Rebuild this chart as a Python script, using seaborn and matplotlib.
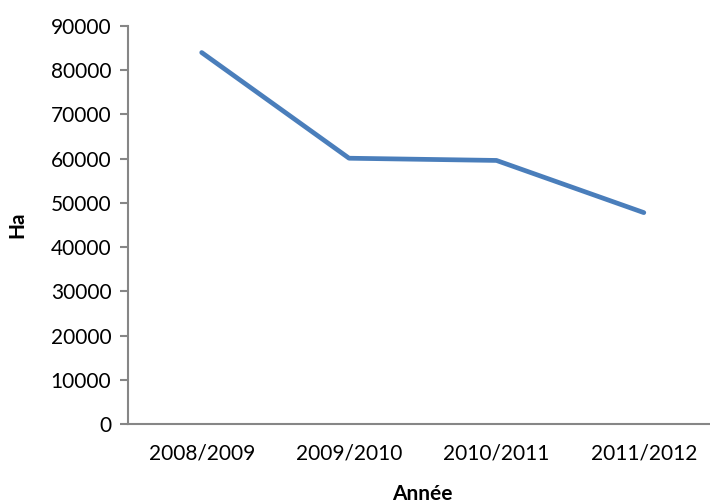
import matplotlib
matplotlib.use('Agg')
import matplotlib.pyplot as plt
import seaborn as sns
import pandas as pd

years = ["2008/2009", "2009/2010", "2010/2011", "2011/2012"]
surface_ha = [84000, 60100, 59600, 47800]

sns.set_style("white")
plt.rcParams['font.family'] = ['Lato', 'DejaVu Sans']
plt.rcParams['text.color'] = 'black'
plt.rcParams['xtick.color'] = 'black'
plt.rcParams['ytick.color'] = 'black'
plt.rcParams['axes.labelcolor'] = 'black'

df = pd.DataFrame({"Année": years, "Ha": surface_ha})

fig = plt.figure(figsize=(7.1, 5.04), dpi=100)
ax = fig.add_axes([128 / 710, 80 / 504, 589.5 / 710, 398 / 504])

sns.lineplot(data=df, x="Année", y="Ha", ax=ax, color="#4a7ebb",
             linewidth=3.4, sort=False)
ax.lines[0].set_solid_capstyle('round')
ax.lines[0].set_solid_joinstyle('round')

ax.set_xlim(-0.5, 3.5)
ax.set_ylim(0, 90000)
ax.set_yticks(range(0, 90001, 10000))

axis_col = "#868686"
for side in ["top", "right"]:
    ax.spines[side].set_visible(False)
for side in ["left", "bottom"]:
    ax.spines[side].set_color(axis_col)
    ax.spines[side].set_linewidth(1.5)

ax.tick_params(axis='y', direction='out', length=6, width=1.5, color=axis_col,
               labelcolor='black', labelsize=15, pad=6, left=True)
ax.tick_params(axis='x', length=0, labelcolor='black', labelsize=15, pad=14)

ax.set_xlabel("Année", fontsize=15, fontweight='bold', labelpad=15)
ax.set_ylabel("Ha", fontsize=15, fontweight='bold', labelpad=17)

fig.savefig("out.png", dpi=100)
